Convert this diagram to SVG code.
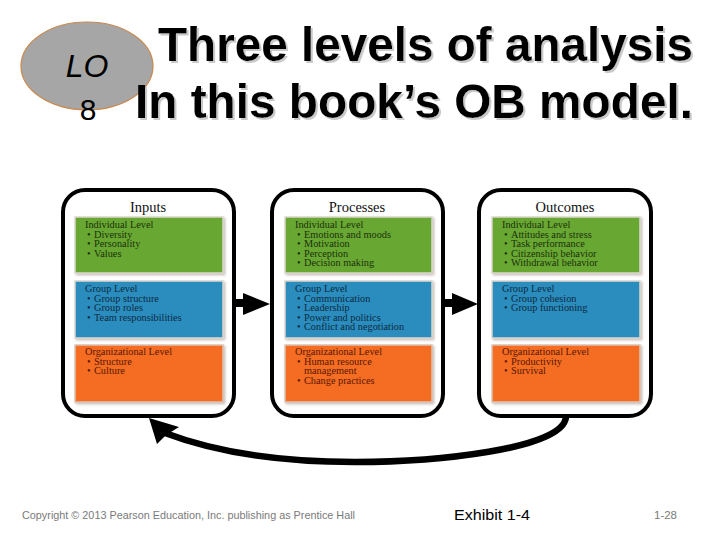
<svg xmlns="http://www.w3.org/2000/svg" width="720" height="540" viewBox="0 0 720 540">
<defs>
<filter id="tshadow" filterUnits="userSpaceOnUse" x="0" y="0" width="720" height="160">
<feDropShadow dx="2" dy="2" stdDeviation="0.7" flood-color="#c4c4c4" flood-opacity="0.9"/>
</filter>
<filter id="pshadow" x="-5%" y="-5%" width="115%" height="120%">
<feDropShadow dx="1.5" dy="1.5" stdDeviation="1" flood-color="#b8aea6" flood-opacity="0.8"/>
</filter>
</defs>
<style>
.title{font-family:"Liberation Sans",Arial,sans-serif;font-weight:bold;font-size:48px;fill:#000;}
.box{fill:#fff;stroke:#000;stroke-width:4;}
.hdr{font-family:"Liberation Serif","Times New Roman",serif;font-size:14.5px;fill:#111;text-anchor:middle;}
.pt{font-family:"Liberation Serif","Times New Roman",serif;font-size:10.3px;}
.g{fill:#68a833;stroke:#ddd8d0;stroke-width:1.5;}
.b{fill:#2b8dbd;stroke:#ddd8d0;stroke-width:1.5;}
.o{fill:#f46d22;stroke:#dcc4b6;stroke-width:1.5;}
.gt{fill:#1c300c;}
.bt{fill:#0e2a44;}
.ot{fill:#5a1604;}
.foot{font-family:"Liberation Sans",Arial,sans-serif;fill:#7a7a7a;font-size:11px;}
</style>
<rect width="720" height="540" fill="#fff"/>
<g id="lo-badge">
<ellipse cx="87" cy="66" rx="66" ry="44" fill="#a6a6a6" stroke="#c8884e" stroke-width="1.2"/>
<text x="87" y="77" font-family="Liberation Sans,Arial,sans-serif" font-style="italic" font-size="32" text-anchor="middle" fill="#000">LO</text>
<text x="88" y="120" font-family="Liberation Sans,Arial,sans-serif" font-size="30" text-anchor="middle" fill="#000">8</text>
</g>
<g id="title" filter="url(#tshadow)">
<text class="title" x="158" y="61" textLength="535" lengthAdjust="spacingAndGlyphs">Three levels of analysis</text>
<text class="title" x="135" y="118" textLength="558" lengthAdjust="spacingAndGlyphs">In this book’s OB model.</text>
</g>

<g id="inputs">
<rect class="box" x="63" y="190" width="171" height="226" rx="22"/>
<text class="hdr" x="148" y="212">Inputs</text>
<g filter="url(#pshadow)">
<rect class="g" x="75" y="217" width="148" height="56"/>
<rect class="b" x="75" y="281" width="148" height="57"/>
<rect class="o" x="75" y="345" width="148" height="57"/>
</g>
<text class="pt gt"><tspan x="85" y="228">Individual Level</tspan><tspan x="87" y="237.5">•</tspan><tspan x="94">Diversity</tspan><tspan x="87" y="247">•</tspan><tspan x="94">Personality</tspan><tspan x="87" y="256.5">•</tspan><tspan x="94">Values</tspan></text>
<text class="pt bt"><tspan x="85" y="292">Group Level</tspan><tspan x="87" y="301.5">•</tspan><tspan x="94">Group structure</tspan><tspan x="87" y="311">•</tspan><tspan x="94">Group roles</tspan><tspan x="87" y="320.5">•</tspan><tspan x="94">Team responsibilities</tspan></text>
<text class="pt ot"><tspan x="85" y="355">Organizational Level</tspan><tspan x="87" y="364.5">•</tspan><tspan x="94">Structure</tspan><tspan x="87" y="374">•</tspan><tspan x="94">Culture</tspan></text>
</g>

<g id="processes">
<rect class="box" x="272" y="190" width="171" height="226" rx="22"/>
<text class="hdr" x="357" y="212">Processes</text>
<g filter="url(#pshadow)">
<rect class="g" x="285" y="217" width="147" height="56"/>
<rect class="b" x="285" y="281" width="147" height="57"/>
<rect class="o" x="285" y="345" width="147" height="57"/>
</g>
<text class="pt gt"><tspan x="295" y="228">Individual Level</tspan><tspan x="297" y="237.5">•</tspan><tspan x="304">Emotions and moods</tspan><tspan x="297" y="247">•</tspan><tspan x="304">Motivation</tspan><tspan x="297" y="256.5">•</tspan><tspan x="304">Perception</tspan><tspan x="297" y="266">•</tspan><tspan x="304">Decision making</tspan></text>
<text class="pt bt"><tspan x="295" y="292">Group Level</tspan><tspan x="297" y="301.5">•</tspan><tspan x="304">Communication</tspan><tspan x="297" y="311">•</tspan><tspan x="304">Leadership</tspan><tspan x="297" y="320.5">•</tspan><tspan x="304">Power and politics</tspan><tspan x="297" y="330">•</tspan><tspan x="304">Conflict and negotiation</tspan></text>
<text class="pt ot"><tspan x="295" y="355">Organizational Level</tspan><tspan x="297" y="364.5">•</tspan><tspan x="304">Human resource</tspan><tspan x="304" y="374">management</tspan><tspan x="297" y="383.5">•</tspan><tspan x="304">Change practices</tspan></text>
</g>

<g id="outcomes">
<rect class="box" x="479" y="190" width="172" height="226" rx="22"/>
<text class="hdr" x="565" y="212">Outcomes</text>
<g filter="url(#pshadow)">
<rect class="g" x="492" y="217" width="148" height="56"/>
<rect class="b" x="492" y="281" width="148" height="57"/>
<rect class="o" x="492" y="345" width="148" height="57"/>
</g>
<text class="pt gt"><tspan x="502" y="228">Individual Level</tspan><tspan x="504" y="237.5">•</tspan><tspan x="511">Attitudes and stress</tspan><tspan x="504" y="247">•</tspan><tspan x="511">Task performance</tspan><tspan x="504" y="256.5">•</tspan><tspan x="511">Citizenship behavior</tspan><tspan x="504" y="266">•</tspan><tspan x="511">Withdrawal behavior</tspan></text>
<text class="pt bt"><tspan x="502" y="292">Group Level</tspan><tspan x="504" y="301.5">•</tspan><tspan x="511">Group cohesion</tspan><tspan x="504" y="311">•</tspan><tspan x="511">Group functioning</tspan></text>
<text class="pt ot"><tspan x="502" y="355">Organizational Level</tspan><tspan x="504" y="364.5">•</tspan><tspan x="511">Productivity</tspan><tspan x="504" y="374">•</tspan><tspan x="511">Survival</tspan></text>
</g>

<g id="connectors" fill="#000">
<rect x="234" y="299" width="10" height="8"/>
<polygon points="243,293 270,304 243,315"/>
<rect x="443" y="299" width="10" height="8"/>
<polygon points="452,293 478,304 452,315"/>
<path d="M 566 416 C 566 450, 430 462, 355 462 C 275 462, 215 452, 165 433" fill="none" stroke="#000" stroke-width="6.5"/>
<polygon points="149,418 179,427 166,435 157,444"/>
</g>

<g id="footer">
<text class="foot" x="22" y="519" textLength="333" lengthAdjust="spacingAndGlyphs">Copyright © 2013 Pearson Education, Inc. publishing as Prentice Hall</text>
<text x="454" y="520" font-family="Liberation Sans,Arial,sans-serif" font-size="15" fill="#000" textLength="76" lengthAdjust="spacingAndGlyphs">Exhibit 1-4</text>
<text class="foot" x="654" y="519" textLength="23" lengthAdjust="spacingAndGlyphs">1-28</text>
</g>
</svg>
